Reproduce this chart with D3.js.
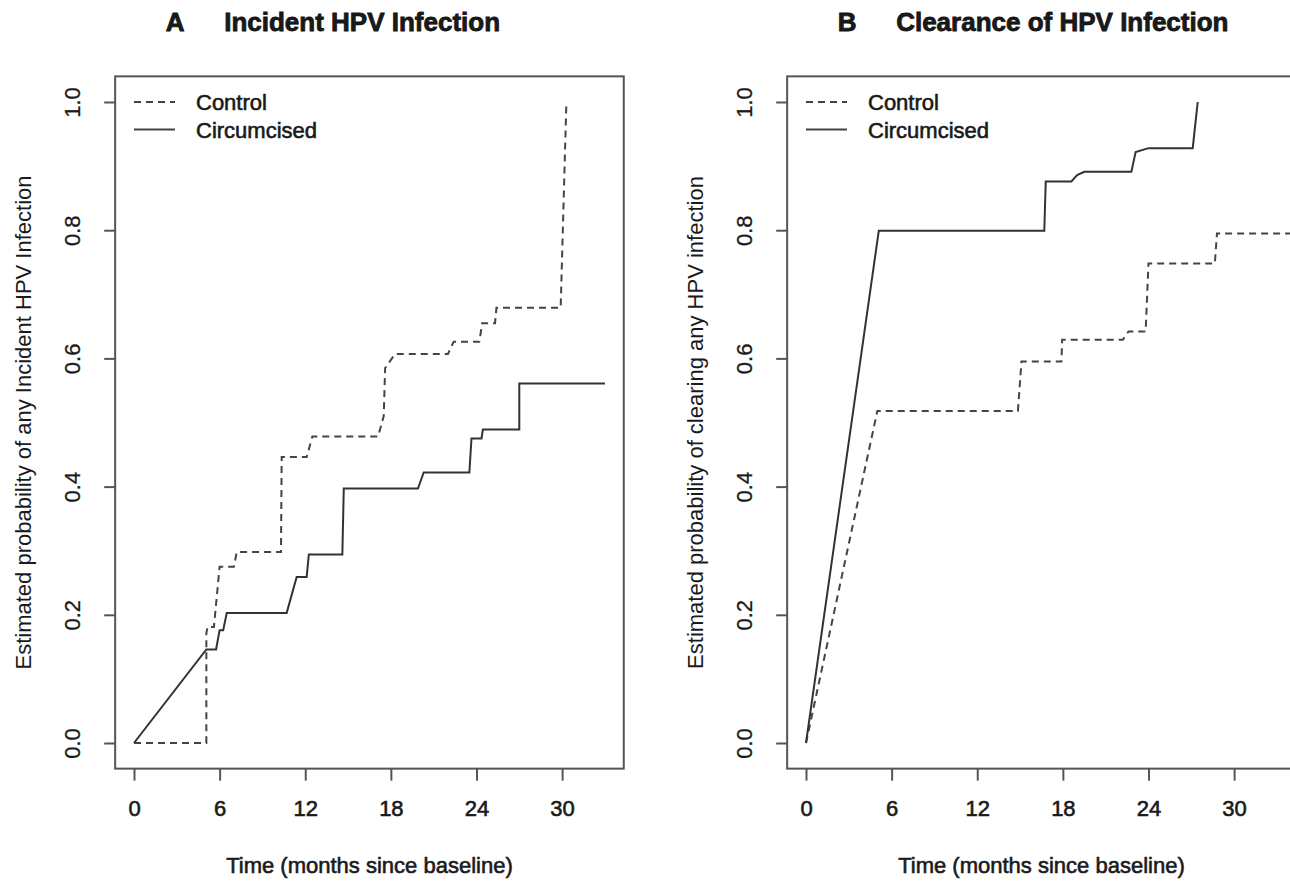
<!DOCTYPE html>
<meta charset="utf-8">
<html>
<head>
<script src="https://d3js.org/d3.v7.min.js"></script>
<style>
  body { margin: 0; background: #fff; }
  svg text { font-family: "Liberation Sans", Arial, sans-serif; fill: #1a1a1a; }
  .tick line { stroke: #555; stroke-width: 2; }
  .tick text { font-size: 22px; stroke: #1a1a1a; stroke-width: 0.6px; }
</style>
</head>
<body>
<svg id="chart" width="1290" height="882"></svg>
<script>
// axis ticks
var xTicks = [0, 6, 12, 18, 24, 30];
var yTicks = [0, 0.2, 0.4, 0.6, 0.8, 1.0];

// panel A - incident infection (line vertices)
var incControlTime = [0, 5.07, 5.07, 5.15, 5.6, 6.0, 7.0, 7.2, 10.3, 10.35, 12.1, 12.5, 17.1, 17.5, 17.6, 18.3, 22.0, 22.4, 24.2, 24.4, 25.3, 25.4, 29.9, 30.3];
var incControlProb = [0, 0, 0.171, 0.181, 0.181, 0.275, 0.275, 0.298, 0.298, 0.446, 0.446, 0.478, 0.478, 0.51, 0.585, 0.607, 0.607, 0.626, 0.626, 0.655, 0.655, 0.679, 0.679, 1.0];
var incCircTime = [0, 5.07, 5.75, 6.0, 6.25, 6.5, 10.7, 11.4, 12.1, 12.25, 14.6, 14.7, 19.9, 20.3, 23.5, 23.65, 24.35, 24.45, 27.0, 27.0, 33.0];
var incCircProb = [0, 0.146, 0.146, 0.176, 0.176, 0.203, 0.203, 0.259, 0.259, 0.294, 0.294, 0.397, 0.397, 0.422, 0.422, 0.475, 0.475, 0.489, 0.489, 0.561, 0.561];

// panel B - clearance
var clrControlTime = [0, 5.0, 14.85, 15.1, 17.9, 17.95, 22.2, 22.6, 23.8, 24.0, 28.65, 28.8, 34.0];
var clrControlProb = [0, 0.518, 0.518, 0.595, 0.595, 0.629, 0.629, 0.642, 0.642, 0.748, 0.748, 0.795, 0.795];
var clrCircTime = [0, 5.1, 16.7, 16.8, 18.6, 19.0, 19.5, 22.8, 23.1, 24.0, 27.1, 27.45];
var clrCircProb = [0, 0.799, 0.799, 0.876, 0.876, 0.886, 0.891, 0.891, 0.922, 0.928, 0.928, 1.0];

var seriesNames = ["Control", "Circumcised"];
var titles = ["Incident HPV Infection", "Clearance of HPV Infection"];
var panelLetters = ["A", "B"];
var yTitles = ["Estimated probability of any Incident HPV Infection",
               "Estimated probability of clearing any HPV infection"];
var xTitle = "Time (months since baseline)";

var svg = d3.select("#chart");

var xMax = 33,
    pxPerMonth = 14.27,
    y = d3.scaleLinear().domain([0, 1]).range([743, 102]);

function zip(t, p) {
  return t.map(function(d, i) { return [d, p[i]]; });
}

function drawPanel(x0, letter, title, yTitle, control, circ) {
  var x = d3.scaleLinear().domain([0, xMax]).range([x0, x0 + xMax * pxPerMonth]);
  var left = x(-0.04 * xMax), right = x(1.04 * xMax),
      top = y(1.04), bottom = y(-0.04);

  var g = svg.append("g");

  // plot box
  g.append("rect")
    .attr("x", left).attr("y", top)
    .attr("width", right - left).attr("height", bottom - top)
    .attr("fill", "none").attr("stroke", "#555").attr("stroke-width", 2);

  // x axis
  var xa = g.append("g")
    .attr("transform", "translate(0," + bottom + ")")
    .call(d3.axisBottom(x).tickValues(xTicks).tickSize(12).tickPadding(20).tickFormat(d3.format("d")));
  xa.select(".domain").remove();

  // y axis
  var ya = g.append("g")
    .attr("transform", "translate(" + left + ",0)")
    .call(d3.axisLeft(y).tickValues(yTicks).tickSize(11).tickFormat(d3.format(".1f")));
  ya.select(".domain").remove();
  ya.selectAll(".tick text")
    .attr("transform", "rotate(-90)")
    .attr("x", 0).attr("y", -35).attr("dy", 0)
    .attr("text-anchor", "middle")
    .style("stroke-width", "0.3px");

  // axis titles
  g.append("text")
    .attr("x", (left + right) / 2).attr("y", 873)
    .attr("text-anchor", "middle")
    .style("font-size", "22px").style("stroke", "#1a1a1a").style("stroke-width", "0.6px")
    .text(xTitle);
  g.append("text")
    .attr("transform", "translate(" + (left - 84) + "," + ((top + bottom) / 2) + ")rotate(-90)")
    .attr("text-anchor", "middle")
    .style("font-size", "22px")
    .text(yTitle);

  // panel title
  svg.append("text")
    .attr("x", left + 60).attr("y", 31)
    .attr("text-anchor", "middle")
    .style("font-size", "26px").style("font-weight", "bold")
    .style("stroke", "#111").style("stroke-width", "0.8px")
    .text(letter);
  svg.append("text")
    .attr("x", left + 109).attr("y", 31)
    .style("font-size", "26px").style("font-weight", "bold")
    .style("stroke", "#111").style("stroke-width", "0.8px")
    .text(title);

  // curves
  var line = d3.line()
    .x(function(d) { return x(d[0]); })
    .y(function(d) { return y(d[1]); });

  g.append("path")
    .datum(control)
    .attr("d", line)
    .attr("fill", "none").attr("stroke", "#444").attr("stroke-width", 2)
    .attr("stroke-dasharray", "7,5");
  g.append("path")
    .datum(circ)
    .attr("d", line)
    .attr("fill", "none").attr("stroke", "#333").attr("stroke-width", 2);

  // legend
  var legY = [y(1.0), y(1.0) + 27.6];
  seriesNames.forEach(function(name, i) {
    g.append("line")
      .attr("x1", x0).attr("x2", x0 + 41)
      .attr("y1", legY[i]).attr("y2", legY[i])
      .attr("stroke", "#444").attr("stroke-width", 2)
      .attr("stroke-dasharray", i === 0 ? "7,5" : null);
    g.append("text")
      .attr("x", x0 + 62).attr("y", legY[i] + 8)
      .style("font-size", "22px").style("stroke", "#1a1a1a").style("stroke-width", "0.6px")
      .text(name);
  });
}

drawPanel(134, panelLetters[0], titles[0], yTitles[0],
  zip(incControlTime, incControlProb), zip(incCircTime, incCircProb));
drawPanel(806, panelLetters[1], titles[1], yTitles[1],
  zip(clrControlTime, clrControlProb), zip(clrCircTime, clrCircProb));
</script>
</body>
</html>
